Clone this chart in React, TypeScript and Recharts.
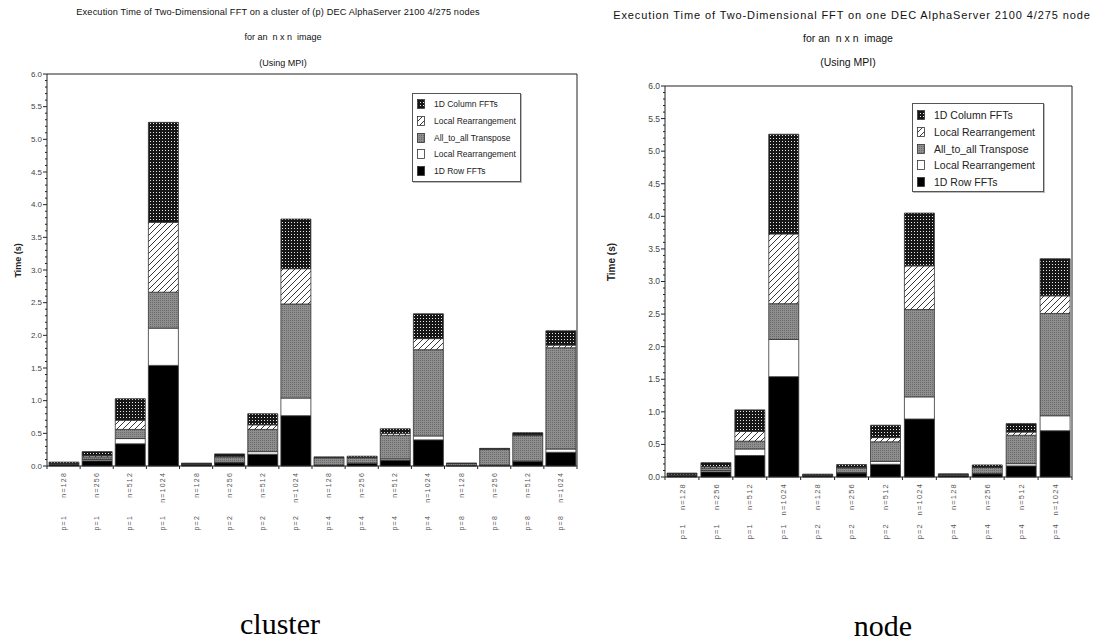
import React from "react";
import { BarChart, Bar, XAxis, YAxis, CartesianGrid, ReferenceLine } from "recharts";

// stack order, bottom to top
const SERIES = [
  { key: "row", name: "1D Row FFTs" },
  { key: "lr1", name: "Local Rearrangement" },
  { key: "tr", name: "All_to_all Transpose" },
  { key: "lr2", name: "Local Rearrangement" },
  { key: "col", name: "1D Column FFTs" },
];

const CLUSTER_N = ["n=128", "n=256", "n=512", "n=1024", "n=128", "n=256", "n=512", "n=1024", "n=128", "n=256", "n=512", "n=1024", "n=128", "n=256", "n=512", "n=1024"];
const CLUSTER_P = ["p=1", "p=1", "p=1", "p=1", "p=2", "p=2", "p=2", "p=2", "p=4", "p=4", "p=4", "p=4", "p=8", "p=8", "p=8", "p=8"];
const CLUSTER_ROW = [0.025, 0.08, 0.34, 1.54, 0.02, 0.05, 0.18, 0.77, 0.01, 0.04, 0.09, 0.4, 0.005, 0.01, 0.07, 0.21];
const CLUSTER_LR1 = [0.003, 0.02, 0.08, 0.57, 0.002, 0.005, 0.04, 0.27, 0.005, 0.005, 0.02, 0.06, 0.002, 0.005, 0.005, 0.05];
const CLUSTER_TR = [0.005, 0.04, 0.14, 0.55, 0.01, 0.085, 0.34, 1.44, 0.11, 0.08, 0.36, 1.32, 0.03, 0.24, 0.39, 1.55];
const CLUSTER_LR2 = [0.002, 0.02, 0.14, 1.07, 0.002, 0.005, 0.07, 0.54, 0.005, 0.005, 0.03, 0.17, 0.002, 0.005, 0.01, 0.04];
const CLUSTER_COL = [0.025, 0.06, 0.33, 1.53, 0.01, 0.04, 0.17, 0.76, 0.01, 0.02, 0.07, 0.38, 0.006, 0.01, 0.035, 0.22];

const NODE_N = ["n=128", "n=256", "n=512", "n=1024", "n=128", "n=256", "n=512", "n=1024", "n=128", "n=256", "n=512", "n=1024"];
const NODE_P = ["p=1", "p=1", "p=1", "p=1", "p=2", "p=2", "p=2", "p=2", "p=4", "p=4", "p=4", "p=4"];
const NODE_ROW = [0.025, 0.08, 0.33, 1.54, 0.02, 0.06, 0.195, 0.89, 0.02, 0.05, 0.17, 0.71];
const NODE_LR1 = [0.003, 0.02, 0.1, 0.57, 0.002, 0.01, 0.045, 0.34, 0.002, 0.005, 0.035, 0.23];
const NODE_TR = [0.005, 0.04, 0.12, 0.55, 0.01, 0.07, 0.3, 1.34, 0.015, 0.09, 0.435, 1.57];
const NODE_LR2 = [0.002, 0.02, 0.15, 1.07, 0.002, 0.01, 0.065, 0.67, 0.002, 0.005, 0.05, 0.27];
const NODE_COL = [0.025, 0.06, 0.33, 1.53, 0.01, 0.04, 0.19, 0.81, 0.01, 0.035, 0.13, 0.57];

const Y_GRID = [0.5, 1, 1.5, 2, 2.5, 3, 3.5, 4, 4.5, 5, 5.5];
const Y_ALL = Array.from({ length: 61 }, (_, i) => i / 10);

const SANS = "'Liberation Sans', Arial, sans-serif";

function buildData(n: string[], p: string[], row: number[], lr1: number[], tr: number[], lr2: number[], col: number[]) {
  return n.map((nl, i) => ({ label: `${p[i]} ${nl}`, row: row[i], lr1: lr1[i], tr: tr[i], lr2: lr2[i], col: col[i] }));
}

const clusterData = buildData(CLUSTER_N, CLUSTER_P, CLUSTER_ROW, CLUSTER_LR1, CLUSTER_TR, CLUSTER_LR2, CLUSTER_COL);
const nodeData = buildData(NODE_N, NODE_P, NODE_ROW, NODE_LR1, NODE_TR, NODE_LR2, NODE_COL);

function Patterns({ id }: { id: string }) {
  return (
    <defs>
      <pattern id={`${id}-col`} width="3" height="3" patternUnits="userSpaceOnUse">
        <rect width="3" height="3" fill="#161616" />
        <rect x="0" y="0" width="1" height="1" fill="#e8e8e8" />
      </pattern>
      <pattern id={`${id}-lr2`} width="6" height="6" patternUnits="userSpaceOnUse">
        <rect width="6" height="6" fill="#ffffff" />
        <path d="M-1,1 l2,-2 M0,6 l6,-6 M5,7 l2,-2" stroke="#222" strokeWidth="0.9" />
      </pattern>
      <pattern id={`${id}-tr`} width="2" height="2" patternUnits="userSpaceOnUse">
        <rect width="2" height="2" fill="#8e8e8e" />
        <rect x="0" y="0" width="1" height="1" fill="#6a6a6a" />
      </pattern>
    </defs>
  );
}

function fillFor(id: string, key: string) {
  if (key === "row") return "#000000";
  if (key === "lr1") return "#ffffff";
  return `url(#${id}-${key})`;
}

function isMajor(v: number) {
  return Math.abs(v * 2 - Math.round(v * 2)) < 1e-6;
}

function LeftTick(props: any) {
  const { x, y, payload, fontSize } = props;
  const major = isMajor(payload.value);
  return (
    <g>
      <line x1={x} x2={x - (major ? 4 : 2)} y1={y} y2={y} stroke="#222" />
      {major && (
        <text x={x - 5} y={y} dy="0.35em" textAnchor="end" fontSize={fontSize} fill="#444" fontFamily={SANS}>
          {payload.value.toFixed(1)}
        </text>
      )}
    </g>
  );
}

function RightTick(props: any) {
  const { x, y, payload } = props;
  const major = isMajor(payload.value);
  return <line x1={x} x2={x + (major ? 4 : 2)} y1={y} y2={y} stroke="#222" />;
}

function XTick(props: any) {
  const { x, y, index, band, count, nLabels, pLabels, pOffset, fontSize } = props;
  return (
    <g>
      <line x1={x - band / 2} x2={x - band / 2} y1={y} y2={y + 3} stroke="#222" />
      {index === count - 1 && <line x1={x + band / 2} x2={x + band / 2} y1={y} y2={y + 3} stroke="#222" />}
      <text
        x={x}
        y={y + 6}
        dy="0.35em"
        textAnchor="end"
        transform={`rotate(-90 ${x} ${y + 6})`}
        fontSize={fontSize}
        letterSpacing={1.2}
        fill="#555"
        fontFamily={SANS}
      >
        {nLabels[index]}
      </text>
      <text
        x={x}
        y={y + pOffset}
        dy="0.35em"
        textAnchor="end"
        transform={`rotate(-90 ${x} ${y + pOffset})`}
        fontSize={fontSize}
        letterSpacing={1.2}
        fill="#555"
        fontFamily={SANS}
      >
        {pLabels[index]}
      </text>
    </g>
  );
}

interface FFTChartProps {
  id: string;
  data: any[];
  nLabels: string[];
  pLabels: string[];
  left: number;
  width: number;
  plotTop: number;
  plotBottom: number;
  yAxisWidth: number;
  marginRight: number;
  gridDash?: string;
  pOffset: number;
  tickFont: number;
}

function FFTChart({ id, data, nLabels, pLabels, left, width, plotTop, plotBottom, yAxisWidth, marginRight, gridDash, pOffset, tickFont }: FFTChartProps) {
  const height = 641;
  const xAxisHeight = 100;
  const rightAxisWidth = 8;
  const plotWidth = width - yAxisWidth - rightAxisWidth - marginRight;
  const band = plotWidth / data.length;
  return (
    <div style={{ position: "absolute", left, top: 0 }}>
      <BarChart
        width={width}
        height={height}
        data={data}
        margin={{ top: plotTop, right: marginRight, left: 0, bottom: height - plotBottom - xAxisHeight }}
      >
        <Patterns id={id} />
        <CartesianGrid
          vertical={false}
          horizontalValues={Y_GRID}
          stroke={gridDash ? "#8a8a8a" : "#a0a0a0"}
          strokeDasharray={gridDash}
        />
        <XAxis
          dataKey="label"
          interval={0}
          height={xAxisHeight}
          tickSize={0}
          tickMargin={0}
          axisLine={{ stroke: "#222" }}
          tickLine={false}
          tick={(p: any) => (
            <XTick {...p} band={band} count={data.length} nLabels={nLabels} pLabels={pLabels} pOffset={pOffset} fontSize={tickFont} />
          )}
        />
        <YAxis
          yAxisId="left"
          width={yAxisWidth}
          domain={[0, 6]}
          ticks={Y_ALL}
          interval={0}
          tickSize={0}
          tickMargin={0}
          axisLine={{ stroke: "#222" }}
          tickLine={false}
          tick={(p: any) => <LeftTick {...p} fontSize={tickFont + 1} />}
        />
        <YAxis
          yAxisId="right"
          orientation="right"
          width={rightAxisWidth}
          domain={[0, 6]}
          ticks={Y_ALL}
          interval={0}
          tickSize={0}
          tickMargin={0}
          axisLine={{ stroke: "#222" }}
          tickLine={false}
          tick={(p: any) => <RightTick {...p} />}
        />
        {SERIES.map((s) => (
          <Bar
            key={s.key}
            yAxisId="left"
            dataKey={s.key}
            name={s.name}
            stackId="a"
            barSize={30}
            fill={fillFor(id, s.key)}
            stroke="#333"
            strokeWidth={0.8}
            isAnimationActive={false}
          />
        ))}
        <ReferenceLine yAxisId="left" y={6} stroke="#222" strokeWidth={1} />
      </BarChart>
    </div>
  );
}

function Legend({ id, x, y, w, h, fontSize, rowGap }: { id: string; x: number; y: number; w: number; h: number; fontSize: number; rowGap: number }) {
  const items = [...SERIES].reverse();
  return (
    <div
      style={{
        position: "absolute",
        left: x,
        top: y,
        width: w,
        height: h,
        boxSizing: "border-box",
        border: "1px solid #555",
        boxShadow: "1px 1px 0 #bbb",
        background: "#fff",
        fontFamily: SANS,
        fontSize,
        color: "#222",
      }}
    >
      {items.map((s, i) => (
        <div
          key={i}
          style={{ position: "absolute", left: 4, top: 5 + i * rowGap, display: "flex", alignItems: "center", whiteSpace: "nowrap" }}
        >
          <svg width={8} height={10} style={{ marginRight: 9 }}>
            <rect x={0.5} y={0.5} width={7} height={9} fill={fillFor(id, s.key)} stroke="#333" strokeWidth={0.8} />
          </svg>
          <span>{s.name}</span>
        </div>
      ))}
    </div>
  );
}

function Title({ cx, y, size, spacing = 0, children }: { cx: number; y: number; size: number; spacing?: number; children: React.ReactNode }) {
  return (
    <div
      style={{
        position: "absolute",
        left: cx - 300,
        width: 600,
        top: y - size * 0.6,
        textAlign: "center",
        fontFamily: SANS,
        fontSize: size,
        letterSpacing: spacing,
        lineHeight: `${size * 1.2}px`,
        color: "#111",
        whiteSpace: "pre",
      }}
    >
      {children}
    </div>
  );
}

function YLabel({ cx, cy, size }: { cx: number; cy: number; size: number }) {
  return (
    <div
      style={{
        position: "absolute",
        left: cx - 40,
        top: cy - size * 0.6,
        width: 80,
        textAlign: "center",
        transform: "rotate(-90deg)",
        fontFamily: SANS,
        fontWeight: "bold",
        fontSize: size,
        lineHeight: `${size * 1.2}px`,
        color: "#222",
      }}
    >
      Time (s)
    </div>
  );
}

function Caption({ cx, cy, text }: { cx: number; cy: number; text: string }) {
  return (
    <div
      style={{
        position: "absolute",
        left: cx - 100,
        width: 200,
        top: cy - 18,
        textAlign: "center",
        fontFamily: "'Liberation Serif', 'Times New Roman', serif",
        fontSize: 30,
        lineHeight: "36px",
        color: "#000",
      }}
    >
      {text}
    </div>
  );
}

export default function App() {
  return (
    <div style={{ position: "absolute", left: 0, top: 0, width: 1103, height: 641, overflow: "hidden", background: "#fff" }}>
      <Title cx={278} y={13} size={9.2} spacing={0.15}>Execution Time of Two-Dimensional FFT on a cluster of (p) DEC AlphaServer 2100 4/275 nodes</Title>
      <Title cx={283} y={37} size={9}>{"for an  n x n  image"}</Title>
      <Title cx={283} y={63} size={9}>(Using MPI)</Title>
      <YLabel cx={18} cy={260} size={9} />
      <FFTChart
        id="cl"
        data={clusterData}
        nLabels={CLUSTER_N}
        pLabels={CLUSTER_P}
        left={0}
        width={600}
        plotTop={74}
        plotBottom={466}
        yAxisWidth={47}
        marginRight={15}
        pOffset={49}
        tickFont={7}
      />
      <Legend id="cl" x={412} y={93} w={109} h={89} fontSize={8.5} rowGap={16.8} />
      <Caption cx={280} cy={624} text="cluster" />

      <Title cx={852} y={16} size={11} spacing={0.9}>Execution Time of Two-Dimensional FFT on one DEC AlphaServer 2100 4/275 node</Title>
      <Title cx={848} y={38} size={10.5}>{"for an  n x n  image"}</Title>
      <Title cx={848} y={62} size={10.5}>(Using MPI)</Title>
      <YLabel cx={612} cy={262} size={10} />
      <FFTChart
        id="nd"
        data={nodeData}
        nLabels={NODE_N}
        pLabels={NODE_P}
        left={590}
        width={513}
        plotTop={86}
        plotBottom={477}
        yAxisWidth={75}
        marginRight={23}
        gridDash="2 1"
        pOffset={46}
        tickFont={7.5}
      />
      <Legend id="nd" x={912} y={103} w={132} h={89} fontSize={10.5} rowGap={16.8} />
      <Caption cx={883} cy={626} text="node" />
    </div>
  );
}
